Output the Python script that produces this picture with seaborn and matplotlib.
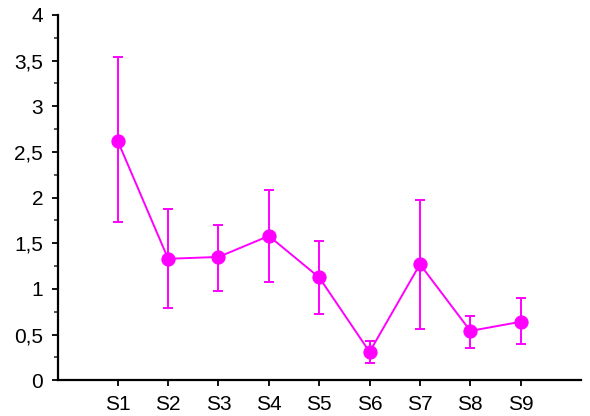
import numpy as np
import pandas as pd
import matplotlib
matplotlib.use('Agg')
import matplotlib.pyplot as plt
import seaborn as sns
from matplotlib.ticker import MultipleLocator, FuncFormatter

# values
samples = ['S1', 'S2', 'S3', 'S4', 'S5', 'S6', 'S7', 'S8', 'S9']
means = [2.62, 1.33, 1.35, 1.58, 1.125, 0.31, 1.27, 0.54, 0.64]
upper = [3.54, 1.87, 1.705, 2.08, 1.52, 0.43, 1.975, 0.705, 0.895]
lower = [1.73, 0.79, 0.975, 1.08, 0.73, 0.185, 0.56, 0.35, 0.395]

df = pd.DataFrame({'pos': np.arange(1, len(samples) + 1), 'mean': means})

sns.set_style('ticks')
plt.rcParams['font.family'] = ['Liberation Sans', 'DejaVu Sans']
plt.rcParams['xtick.labelsize'] = 15
plt.rcParams['ytick.labelsize'] = 15

fig = plt.figure(figsize=(5.9, 4.16), dpi=100)
ax = fig.add_axes([0.098, 0.086, 0.887, 0.878])

color = '#ff00ff'
yerr = [np.array(means) - np.array(lower), np.array(upper) - np.array(means)]
ax.errorbar(df['pos'], df['mean'], yerr=yerr, fmt='none', ecolor=color,
            elinewidth=1.4, capsize=3.5, capthick=1.4, zorder=2)
sns.lineplot(data=df, x='pos', y='mean', ax=ax, color=color, linewidth=1.4,
             marker='o', markersize=9.5, markeredgecolor=color, zorder=3)

ax.set_xlim(-0.19, 10.2)
ax.set_ylim(0, 4)
ax.set_xticks(df['pos'])
ax.set_xticklabels(samples, fontsize=15)
ax.yaxis.set_major_locator(MultipleLocator(0.5))
ax.yaxis.set_minor_locator(MultipleLocator(0.25))
ax.yaxis.set_major_formatter(FuncFormatter(lambda v, p: f'{v:g}'.replace('.', ',')))
ax.set_xlabel('')
ax.set_ylabel('')

for s in ['top', 'right']:
    ax.spines[s].set_visible(False)
for s in ['left', 'bottom']:
    ax.spines[s].set_linewidth(1.6)
    ax.spines[s].set_color('black')

ax.tick_params(axis='both', which='major', length=4.5, width=1.3, colors='black')
ax.tick_params(axis='y', which='minor', length=3, width=1.1)
ax.tick_params(axis='y', which='major', pad=6)
ax.tick_params(axis='x', pad=6)

fig.savefig('out.png', dpi=100)
